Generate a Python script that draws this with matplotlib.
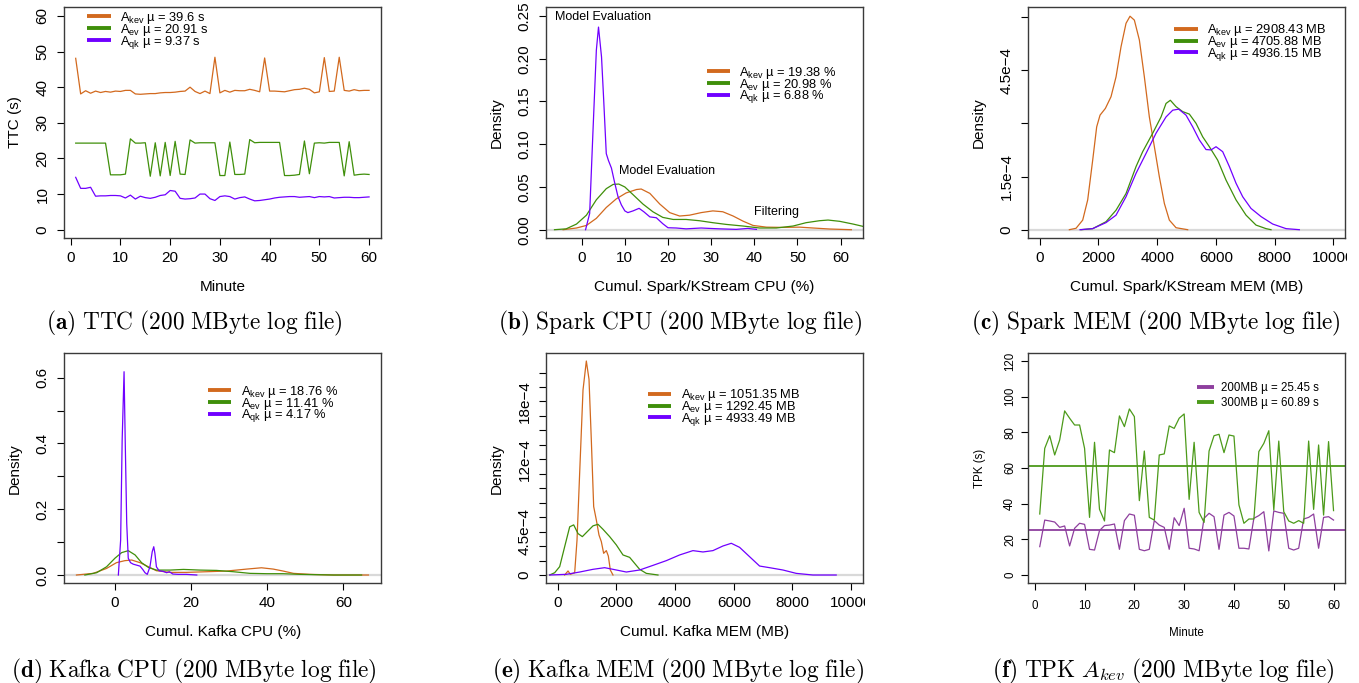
import numpy as np
import matplotlib
matplotlib.use("Agg")
import matplotlib.pyplot as plt
from matplotlib.lines import Line2D
from matplotlib.transforms import Bbox, TransformedBbox

plt.rcParams['font.family'] = ['Liberation Sans', 'DejaVu Sans']

ORANGE = '#D2691E'
GREEN = '#3F8F0A'
PURPLE = '#7000FF'
PURPLE_F = '#8E3F9E'
GREEN_F = '#4C9A1A'

minutes = list(range(1, 61))

# (a) TTC per minute
ttc_kev = [48.1, 38.1, 39.0, 38.3, 38.9, 38.5, 38.8, 38.6, 38.9, 38.8,
           39.1, 39.1, 38.1, 38.0, 38.1, 38.2, 38.2, 38.4, 38.5, 38.5,
           38.6, 38.8, 38.9, 40.0, 38.8, 38.2, 38.9, 38.2, 48.4, 38.4,
           39.1, 38.6, 39.1, 39.0, 39.0, 39.4, 39.1, 38.7, 48.2, 38.9,
           38.9, 38.8, 38.7, 39.0, 39.3, 39.4, 39.7, 39.4, 38.4, 38.7,
           48.3, 38.8, 38.9, 48.4, 39.1, 38.9, 39.3, 39.0, 39.1, 39.1]
ttc_ev = [24.3, 24.3, 24.3, 24.3, 24.3, 24.3, 24.3, 15.4, 15.4, 15.4,
          15.6, 25.5, 24.3, 24.3, 24.4, 15.0, 24.4, 15.1, 24.5, 15.2,
          24.8, 15.6, 15.5, 25.2, 24.3, 24.4, 24.4, 24.4, 24.4, 15.2,
          15.2, 24.6, 15.5, 15.5, 15.6, 25.3, 24.4, 24.5, 24.5, 24.5,
          24.5, 24.5, 15.2, 15.2, 15.3, 15.5, 24.9, 15.7, 24.3, 24.4,
          24.3, 24.5, 24.5, 24.5, 15.1, 24.7, 15.3, 15.5, 15.6, 15.5]
ttc_qk = [14.7, 11.6, 11.6, 11.9, 9.4, 9.5, 9.5, 9.6, 9.6, 9.5,
          8.9, 9.7, 8.6, 9.4, 9.0, 8.8, 9.1, 9.6, 9.8, 11.0,
          10.8, 8.8, 8.6, 8.7, 8.9, 10.0, 10.0, 8.7, 8.2, 9.3,
          9.5, 9.3, 8.6, 9.0, 9.2, 8.6, 8.1, 8.2, 8.4, 8.6,
          8.9, 9.1, 9.2, 9.3, 9.3, 9.1, 9.2, 9.3, 9.0, 9.3,
          9.2, 9.3, 8.9, 9.0, 9.1, 9.1, 9.0, 9.0, 9.1, 9.2]

# (b) Spark CPU density
scpu_kev_x = [-4.3, -1.2, 1.1, 3.4, 5.7, 8.0, 10.3, 12.7, 13.8, 15.8, 18.1, 20.4, 22.7, 25.0,
              27.7, 30.4, 32.7, 35.1, 37.4, 39.7, 42.8, 46.6, 50.5, 53.6, 57.5, 62.5]
scpu_kev_y = [0.0, 0.002, 0.005, 0.0133, 0.026, 0.036, 0.043, 0.047, 0.0476, 0.0425, 0.030, 0.020,
              0.016, 0.017, 0.020, 0.022, 0.021, 0.016, 0.010, 0.005, 0.003, 0.0027, 0.003, 0.002,
              0.0008, 0.0]
scpu_ev_x = [-6.3, -3.6, -1.2, 1.1, 3.4, 5.7, 7.3, 8.6, 10.0, 11.9, 14.2, 16.5, 18.8, 21.2, 24.2,
             27.3, 30.4, 33.5, 37.4, 41.2, 45.1, 49.0, 52.0, 55.1, 57.1, 59.8, 62.9, 65.2, 68.0]
scpu_ev_y = [0.0, 0.001, 0.0066, 0.017, 0.035, 0.048, 0.053, 0.0534, 0.050, 0.041, 0.030, 0.021,
             0.0144, 0.012, 0.012, 0.0105, 0.0082, 0.0062, 0.0043, 0.002, 0.002, 0.0043, 0.0082,
             0.0105, 0.0113, 0.0098, 0.0066, 0.0039, 0.002]
scpu_qk_x = [0.9, 1.85, 2.6, 3.4, 3.9, 4.6, 5.1, 5.7, 6.2, 6.9, 7.6, 8.4, 9.2, 10.0, 10.7, 11.9,
             13.3, 14.4, 15.8, 17.3, 18.8, 20.0, 21.9, 24.2, 27.7, 29.7, 32.0, 35.8, 38.5, 40.5]
scpu_qk_y = [0.0, 0.019, 0.113, 0.21, 0.237, 0.202, 0.152, 0.089, 0.081, 0.072, 0.056, 0.039,
             0.029, 0.022, 0.020, 0.022, 0.025, 0.021, 0.015, 0.014, 0.007, 0.0023, 0.002, 0.001,
             0.002, 0.0015, 0.001, 0.0004, 0.0015, 0.0004]

# (c) Spark MEM density
smem_kev_x = [1010, 1237, 1464, 1634, 1804, 1940, 2054, 2236, 2428, 2599, 2769, 2939, 3075, 3223,
              3393, 3563, 3733, 3904, 4074, 4244, 4414, 4641, 5038]
smem_kev_y = [0.0, 0.4e-5, 2.7e-5, 8.4e-5, 1.96e-4, 2.9e-4, 3.23e-4, 3.42e-4, 3.75e-4, 4.31e-4,
              5.16e-4, 5.82e-4, 6.02e-4, 5.91e-4, 5.35e-4, 4.31e-4, 3.18e-4, 2.34e-4, 1.49e-4,
              7.4e-5, 2.7e-5, 0.56e-5, 0.0]
smem_ev_x = [1407, 1804, 2258, 2599, 2939, 3280, 3506, 3847, 4131, 4301, 4448, 4641, 4868, 5095,
             5322, 5549, 5776, 6060, 6343, 6684, 7025, 7365, 7705, 7875]
smem_ev_y = [0.0, 0.3e-5, 2.25e-5, 5.5e-5, 1.02e-4, 1.78e-4, 2.2e-4, 2.72e-4, 3.18e-4, 3.56e-4,
             3.65e-4, 3.47e-4, 3.33e-4, 3.26e-4, 3.0e-4, 2.62e-4, 2.34e-4, 1.96e-4, 1.4e-4,
             8.4e-5, 4.1e-5, 1.3e-5, 0.3e-5, 0.0]
smem_qk_x = [1373, 1804, 2258, 2599, 2939, 3280, 3620, 3960, 4301, 4528, 4732, 4982, 5209, 5436,
             5662, 5833, 6003, 6230, 6457, 6684, 6911, 7194, 7535, 7932, 8386, 8840]
smem_qk_y = [0.0, 0.3e-5, 2.0e-5, 4.1e-5, 9.3e-5, 1.59e-4, 2.15e-4, 2.72e-4, 3.18e-4, 3.37e-4,
             3.4e-4, 3.23e-4, 2.9e-4, 2.53e-4, 2.26e-4, 2.25e-4, 2.34e-4, 2.2e-4, 1.78e-4,
             1.31e-4, 9.3e-5, 6.0e-5, 3.7e-5, 1.6e-5, 0.3e-5, 0.0]

# (d) Kafka CPU density
kcpu_kev_x = [-10.1, -5.7, -2.2, 0.4, 2.6, 4.4, 6.6, 8.8, 10.9, 14.5, 18.8, 24.1, 29.3, 34.6,
              38.5, 41.6, 44.2, 46.9, 51.2, 57.4, 66.6]
kcpu_kev_y = [0.0, 0.005, 0.020, 0.0375, 0.0436, 0.0456, 0.0375, 0.025, 0.013, 0.008, 0.008,
              0.010, 0.012, 0.018, 0.022, 0.018, 0.012, 0.005, 0.002, 0.0, 0.0]
kcpu_ev_x = [-7.9, -4.8, -2.2, 0.0, 1.75, 3.5, 5.3, 7.0, 8.8, 10.9, 14.5, 18.0, 22.3, 26.7, 31.1,
             35.5, 39.9, 44.2, 48.6, 57.4, 64.8]
kcpu_ev_y = [0.0, 0.007, 0.025, 0.051, 0.068, 0.074, 0.061, 0.0375, 0.023, 0.015, 0.015, 0.017,
             0.015, 0.014, 0.010, 0.005, 0.004, 0.004, 0.002, 0.0, 0.0]
kcpu_qk_x = [0.9, 1.5, 1.9, 2.4, 2.7, 3.1, 3.5, 4.1, 4.8, 5.7, 6.6, 7.3, 7.9, 8.5, 9.2, 9.8,
             10.2, 10.5, 10.9, 11.6, 12.7, 13.6, 14.3, 15.2, 16.6, 18.8, 21.5]
kcpu_qk_y = [0.0, 0.106, 0.41, 0.618, 0.41, 0.157, 0.051, 0.0375, 0.033, 0.030, 0.027, 0.017,
             0.007, 0.002, 0.025, 0.071, 0.086, 0.066, 0.025, 0.013, 0.011, 0.007, 0.010, 0.003,
             0.002, 0.002, 0.0]

# (e) Kafka MEM density
kmem_kev_x = [238, 352, 431, 579, 658, 749, 863, 976, 1067, 1146, 1226, 1317, 1407, 1487, 1566,
              1657, 1725, 1793, 1884]
kmem_kev_y = [0.0, 4.2e-5, 0.7e-5, 2.4e-5, 3.6e-4, 1.06e-3, 1.92e-3, 2.22e-3, 2.03e-3, 1.40e-3,
              7.1e-4, 5.7e-4, 4.15e-4, 3.46e-4, 2.25e-4, 2.53e-4, 1.97e-4, 5.2e-5, 0.0]
kmem_ev_x = [-272, -102, 68, 238, 409, 545, 692, 840, 976, 1203, 1373, 1544, 1771, 1998, 2225,
             2452, 2622, 2792, 3019, 3417]
kmem_ev_y = [0.0, 2.4e-5, 8.7e-5, 2.94e-4, 5.0e-4, 5.2e-4, 4.3e-4, 3.98e-4, 4.4e-4, 5.1e-4,
             5.26e-4, 4.74e-4, 3.98e-4, 3.12e-4, 2.08e-4, 1.83e-4, 1.21e-4, 5.9e-5, 1.7e-5, 0.0]
kmem_qk_x = [-272, 295, 749, 1203, 1600, 1884, 2338, 2792, 3246, 3700, 4154, 4608, 4949, 5289,
             5630, 5914, 6198, 6538, 6879, 7219, 7673, 8127, 8695, 9489]
kmem_qk_y = [0.0, 0.7e-5, 3.1e-5, 5.9e-5, 7.6e-5, 5.9e-5, 3.1e-5, 5.2e-5, 1.0e-4, 1.49e-4,
             2.08e-4, 2.53e-4, 2.39e-4, 2.53e-4, 3.01e-4, 3.29e-4, 2.87e-4, 1.90e-4, 9.3e-5,
             7.6e-5, 5.2e-5, 1.7e-5, 0.0, 0.0]

# (f) TPK per minute
tpk_200 = [15.9, 30.8, 30.3, 29.7, 26.7, 27.5, 16.3, 26.2, 29.0, 28.4,
           14.4, 14.0, 24.9, 27.7, 28.0, 28.6, 14.4, 30.5, 34.2, 33.5,
           14.4, 13.6, 14.4, 30.5, 28.0, 26.7, 14.4, 32.1, 27.7, 37.4,
           15.0, 14.6, 13.6, 31.8, 34.6, 32.7, 14.4, 33.6, 35.1, 33.1,
           15.0, 15.0, 14.6, 31.8, 33.3, 35.5, 13.5, 35.9, 35.1, 34.6,
           15.0, 14.0, 15.0, 31.4, 32.3, 34.2, 15.0, 32.3, 32.7, 30.8]
tpk_300 = [34.2, 71.0, 78.1, 67.3, 75.7, 92.0, 87.9, 84.1, 84.1, 71.0,
           32.3, 74.4, 36.8, 30.3, 70.1, 68.6, 89.2, 83.2, 93.1, 88.8,
           41.7, 69.5, 32.3, 30.8, 67.3, 67.9, 83.6, 82.2, 87.9, 90.3,
           42.4, 74.4, 35.1, 29.5, 69.5, 78.1, 78.9, 68.6, 78.5, 77.9,
           39.3, 29.0, 31.4, 31.4, 69.2, 73.8, 80.9, 36.4, 75.1, 35.5,
           30.3, 29.0, 30.5, 29.0, 75.1, 36.8, 72.9, 33.6, 74.8, 36.1]
tpk_mean_200 = 25.45
tpk_mean_300 = 60.89

W, H = 1359, 683
fig = plt.figure(figsize=(W / 100, H / 100), dpi=100)


def make_ax(left, top, right, bottom):
    return fig.add_axes([left / W, 1 - bottom / H, (right - left) / W, (bottom - top) / H])


def style(ax, fs=11, xpad=4.5, ypad=5.5, tl=5):
    for s in ax.spines.values():
        s.set_color('#3a3a3a')
        s.set_linewidth(1.0)
    ax.tick_params(direction='out', length=tl, width=0.8, labelsize=fs, color='black')
    ax.tick_params(axis='x', pad=xpad)
    ax.tick_params(axis='y', pad=ypad)


def set_yt(ax, ticks, labels, fs=11):
    ax.set_yticks(ticks)
    ax.set_yticklabels(labels, rotation=90, va='center', fontsize=fs)


def rleg(ax, cols, labels, x, y, fs=9.3, spacing=-0.32, hl=1.8, tp=0.72):
    hs = [Line2D([0], [0], color=c, lw=2.8, solid_capstyle='butt') for c in cols]
    ax.legend(hs, labels, loc='upper left', bbox_to_anchor=(x, y), frameon=False,
              handlelength=hl, handletextpad=tp, labelspacing=spacing, borderpad=0,
              borderaxespad=0, prop={'family': 'Liberation Sans', 'size': fs})


def clip_last_xlabel(ax, xfig):
    lab = ax.xaxis.get_major_ticks()[-1].label1
    lab.set_clip_box(TransformedBbox(Bbox([[0, 0], [xfig, 1]]), fig.transFigure))
    lab.set_clip_on(True)


cols3 = [ORANGE, GREEN, PURPLE]

# (a)
ax = make_ax(64, 7, 381, 238)
ax.plot(minutes, ttc_kev, color=ORANGE, lw=0.9)
ax.plot(minutes, ttc_ev, color=GREEN, lw=0.9)
ax.plot(minutes, ttc_qk, color=PURPLE, lw=0.9)
ax.set_xlim(-1.35, 62.4)
ax.set_ylim(-2.33, 62.5)
ax.set_xticks(range(0, 61, 10))
set_yt(ax, range(0, 61, 10), [str(v) for v in range(0, 61, 10)])
style(ax)
ax.set_xlabel('Minute', fontsize=11)
ax.set_ylabel('TTC (s)', fontsize=11)
ax.xaxis.set_label_coords(0.5, -0.183)
ax.yaxis.set_label_coords(-0.1334, 0.5)
rleg(ax, cols3, [r'A$_\mathregular{kev}$ µ = 39.6 s', r'A$_\mathregular{ev}$ µ = 20.91 s',
                 r'A$_\mathregular{qk}$ µ = 9.37 s'], 0.074, 0.987)

# (b)
ax = make_ax(546.3, 7, 863, 238)
ax.axhline(0, color='#d9d9d9', lw=1.6, zorder=0)
ax.plot(scpu_kev_x, scpu_kev_y, color=ORANGE, lw=0.9)
ax.plot(scpu_ev_x, scpu_ev_y, color=GREEN, lw=0.9)
ax.plot(scpu_qk_x, scpu_qk_y, color=PURPLE, lw=0.9)
ax.set_xlim(-8.2, 65.2)
ax.set_ylim(-0.0097, 0.2605)
ax.set_xticks(range(0, 61, 10))
yt = [0, 0.05, 0.10, 0.15, 0.20, 0.25]
set_yt(ax, yt, ['%.2f' % v for v in yt])
style(ax)
ax.set_xlabel('Cumul. Spark/KStream CPU (%)', fontsize=11)
ax.set_ylabel('Density', fontsize=11)
ax.xaxis.set_label_coords(0.5, -0.181)
ax.yaxis.set_label_coords(-0.1358, 0.5)
ax.text(4.9, 0.249, 'Model Evaluation', ha='center', va='center', fontsize=9)
ax.text(19.8, 0.069, 'Model Evaluation', ha='center', va='center', fontsize=9)
ax.text(45.1, 0.0207, 'Filtering', ha='center', va='center', fontsize=9)
rleg(ax, cols3, [r'A$_\mathregular{kev}$ µ = 19.38 %', r'A$_\mathregular{ev}$ µ = 20.98 %',
                 r'A$_\mathregular{qk}$ µ = 6.88 %'], 0.507, 0.750)

# (c)
ax = make_ax(1028.3, 7, 1345, 238)
ax.axhline(0, color='#d9d9d9', lw=1.6, zorder=0)
ax.plot(smem_kev_x, smem_kev_y, color=ORANGE, lw=0.9)
ax.plot(smem_ev_x, smem_ev_y, color=GREEN, lw=0.9)
ax.plot(smem_qk_x, smem_qk_y, color=PURPLE, lw=0.9)
ax.set_xlim(-388, 10394)
ax.set_ylim(-2.34e-5, 6.28e-4)
ax.set_xticks(range(0, 10001, 2000))
set_yt(ax, [0, 1.5e-4, 3e-4, 4.5e-4, 6e-4], ['0', '1.5e\u22124', '', '4.5e\u22124', ''])
style(ax)
ax.set_xlabel('Cumul. Spark/KStream MEM (MB)', fontsize=11)
ax.set_ylabel('Density', fontsize=11)
ax.xaxis.set_label_coords(0.5, -0.181)
ax.yaxis.set_label_coords(-0.1345, 0.5)
clip_last_xlabel(ax, 1346.5 / W)
rleg(ax, cols3, [r'A$_\mathregular{kev}$ µ = 2908.43 MB', r'A$_\mathregular{ev}$ µ = 4705.88 MB',
                 r'A$_\mathregular{qk}$ µ = 4936.15 MB'], 0.461, 0.934)

# (d)
ax = make_ax(64.3, 353.3, 381, 583.3)
ax.axhline(0, color='#d9d9d9', lw=1.6, zorder=0)
ax.plot(kcpu_kev_x, kcpu_kev_y, color=ORANGE, lw=0.9)
ax.plot(kcpu_ev_x, kcpu_ev_y, color=GREEN, lw=0.9)
ax.plot(kcpu_qk_x, kcpu_qk_y, color=PURPLE, lw=0.9)
ax.set_xlim(-13.3, 69.9)
ax.set_ylim(-0.0252, 0.674)
ax.set_xticks(range(0, 61, 20))
set_yt(ax, [0, 0.1, 0.2, 0.3, 0.4, 0.5, 0.6], ['0.0', '', '0.2', '', '0.4', '', '0.6'])
style(ax)
ax.set_xlabel('Cumul. Kafka CPU (%)', fontsize=11)
ax.set_ylabel('Density', fontsize=11)
ax.xaxis.set_label_coords(0.5, -0.183)
ax.yaxis.set_label_coords(-0.1336, 0.5)
rleg(ax, cols3, [r'A$_\mathregular{kev}$ µ = 18.76 %', r'A$_\mathregular{ev}$ µ = 11.41 %',
                 r'A$_\mathregular{qk}$ µ = 4.17 %'], 0.454, 0.868)

# (e)
ax = make_ax(546.3, 353.3, 863, 583.3)
ax.axhline(0, color='#d9d9d9', lw=1.6, zorder=0)
ax.plot(kmem_kev_x, kmem_kev_y, color=ORANGE, lw=0.9)
ax.plot(kmem_ev_x, kmem_ev_y, color=GREEN, lw=0.9)
ax.plot(kmem_qk_x, kmem_qk_y, color=PURPLE, lw=0.9)
ax.set_xlim(-388, 10402)
ax.set_ylim(-0.86e-4, 23.0e-4)
ax.set_xticks(range(0, 10001, 2000))
eticks = [i * 1.5e-4 for i in range(15)]
elabels = ['' for _ in eticks]
elabels[0] = '0'
elabels[3] = '4.5e\u22124'
elabels[8] = '12e\u22124'
elabels[12] = '18e\u22124'
set_yt(ax, eticks, elabels)
style(ax)
ax.set_xlabel('Cumul. Kafka MEM (MB)', fontsize=11)
ax.set_ylabel('Density', fontsize=11)
ax.xaxis.set_label_coords(0.5, -0.183)
ax.yaxis.set_label_coords(-0.1358, 0.5)
clip_last_xlabel(ax, 864.5 / W)
rleg(ax, cols3, [r'A$_\mathregular{kev}$ µ = 1051.35 MB', r'A$_\mathregular{ev}$ µ = 1292.45 MB',
                 r'A$_\mathregular{qk}$ µ = 4933.49 MB'], 0.321, 0.852)

# (f)
ax = make_ax(1028.3, 353.3, 1345, 583.3)
ax.plot(minutes, tpk_200, color=PURPLE_F, lw=0.9)
ax.plot(minutes, tpk_300, color=GREEN_F, lw=0.9)
ax.axhline(tpk_mean_200, color=PURPLE_F, lw=1.3)
ax.axhline(tpk_mean_300, color=GREEN_F, lw=1.3)
ax.set_xlim(-1.3, 62.3)
ax.set_ylim(-4.65, 124.3)
ax.set_xticks(range(0, 61, 10))
set_yt(ax, range(0, 121, 20), [str(v) for v in range(0, 121, 20)], fs=8.3)
style(ax, fs=8.3, xpad=7, ypad=4, tl=4.8)
ax.set_xlabel('Minute', fontsize=8.3)
ax.set_ylabel('TPK (s)', fontsize=8.3)
ax.xaxis.set_label_coords(0.5, -0.19)
ax.yaxis.set_label_coords(-0.135, 0.5)
rleg(ax, [PURPLE_F, GREEN_F], ['200MB µ = 25.45 s', '300MB µ = 60.89 s'], 0.533, 0.875,
     fs=8.3, spacing=0.22, hl=1.48, tp=0.58)

# captions
caps = [
    (194, 323, r'$\mathbf{(a)}\ \mathrm{TTC\ (200\ MByte\ log\ file)}$'),
    (680, 323, r'$\mathbf{(b)}\ \mathrm{Spark\ CPU\ (200\ MByte\ log\ file)}$'),
    (1156, 323, r'$\mathbf{(c)}\ \mathrm{Spark\ MEM\ (200\ MByte\ log\ file)}$'),
    (194, 671, r'$\mathbf{(d)}\ \mathrm{Kafka\ CPU\ (200\ MByte\ log\ file)}$'),
    (678, 671, r'$\mathbf{(e)}\ \mathrm{Kafka\ MEM\ (200\ MByte\ log\ file)}$'),
    (1163, 671, r'$\mathbf{(f)}\ \mathrm{TPK}\ A_{kev}\ \mathrm{(200\ MByte\ log\ file)}$'),
]
for cx, cy, txt in caps:
    fig.text(cx / W, 1 - cy / H, txt, ha='center', va='center', fontsize=16.8, math_fontfamily='cm')

fig.savefig('out.png', dpi=100)
